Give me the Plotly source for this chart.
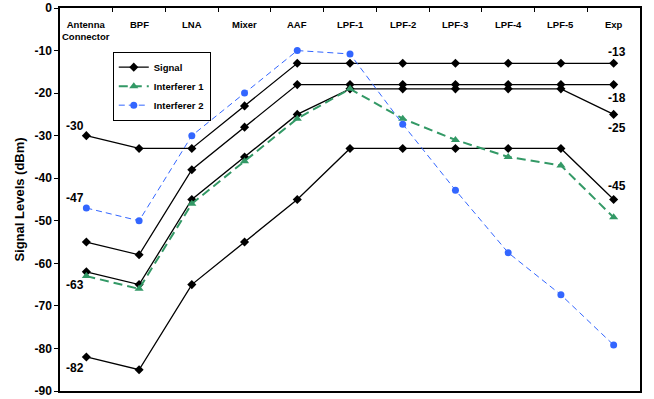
import plotly.graph_objects as go

# Receiver chain stages
stages = ["Antenna<br>Connector", "BPF", "LNA", "Mixer", "AAF",
          "LPF-1", "LPF-2", "LPF-3", "LPF-4", "LPF-5", "Exp"]

# Wanted-signal levels (dBm) for four input cases
signal_a = [-30, -33, -33, -23, -13, -13, -13, -13, -13, -13, -13]
signal_b = [-55, -58, -38, -28, -18, -18, -18, -18, -18, -18, -18]
signal_c = [-62, -65, -45, -35, -25, -19, -19, -19, -19, -19, -25]
signal_d = [-82, -85, -65, -55, -45, -33, -33, -33, -33, -33, -45]

# Interferer levels (dBm)
interferer_1 = [-63, -66, -46, -36, -26, -19, -26, -31, -35, -37, -49.2]
interferer_2 = [-47, -50, -30, -20, -10, -10.8, -27.3, -42.8, -57.5, -67.4, -79.2]

# Value callouts: (stage index, value, vertical offset in px)
left_labels = [(0, -30, 10), (0, -47, 10), (0, -63, -9), (0, -82, -11)]
right_labels = [(10, -13, 11), (10, -18, -13), (10, -25, -14), (10, -45, 14)]

# Y axis ticks (dBm)
y_ticks = [0, -10, -20, -30, -40, -50, -60, -70, -80, -90]

BLACK = "#000000"
GREEN = "#339966"
BLUE = "#3366FF"
FONT = "Liberation Sans, Arial, sans-serif"

fig = go.Figure()

for i, series in enumerate([signal_a, signal_b, signal_c, signal_d]):
    fig.add_trace(go.Scatter(
        x=stages, y=series, mode="lines+markers", name="Signal",
        legendgroup="signal", showlegend=(i == 0),
        line=dict(color=BLACK, width=1.3),
        marker=dict(symbol="diamond", size=7, color=BLACK),
    ))

fig.add_trace(go.Scatter(
    x=stages, y=interferer_1, mode="lines+markers", name="Interferer 1",
    line=dict(color=GREEN, width=2, dash="9px,5px"),
    marker=dict(symbol="triangle-up", size=8, color=GREEN),
))

fig.add_trace(go.Scatter(
    x=stages, y=interferer_2, mode="lines+markers", name="Interferer 2",
    line=dict(color=BLUE, width=1, dash="6px,4px"),
    marker=dict(symbol="circle", size=7, color=BLUE),
))

annotations = []
# Stage names along the top of the plot
for s in stages:
    annotations.append(dict(
        x=s, y=1, xref="x", yref="paper", yanchor="top", xanchor="center",
        yshift=-9, text="<b>%s</b>" % s, showarrow=False,
        font=dict(family=FONT, size=9.5, color=BLACK), align="center",
    ))

for idx, val, dy in left_labels:
    annotations.append(dict(
        x=stages[idx], y=val, xref="x", yref="y", xshift=-11, yshift=dy,
        text="<b>%d</b>" % val, showarrow=False,
        font=dict(family=FONT, size=12, color=BLACK),
    ))
for idx, val, dy in right_labels:
    annotations.append(dict(
        x=stages[idx], y=val, xref="x", yref="y", xshift=3, yshift=dy,
        text="<b>%d</b>" % val, showarrow=False,
        font=dict(family=FONT, size=12, color=BLACK),
    ))

fig.update_layout(
    width=654, height=399,
    margin=dict(l=60, r=14, t=8, b=8),
    paper_bgcolor="white", plot_bgcolor="white",
    showlegend=True,
    legend=dict(
        x=0.091, y=0.886, xanchor="left", yanchor="top",
        bgcolor="white", bordercolor=BLACK, borderwidth=1,
        font=dict(family=FONT, size=9.5, color=BLACK, weight="bold"),
        tracegroupgap=0, itemwidth=30,
    ),
    annotations=annotations,
    font=dict(family=FONT, color=BLACK),
)

fig.update_xaxes(
    type="category", side="top", range=[-0.5, len(stages) - 0.5],
    showticklabels=False, ticks="inside", ticklen=4, tickcolor=BLACK,
    tickson="boundaries", showgrid=False, zeroline=False, automargin=False,
    showline=True, linecolor=BLACK, linewidth=1.5, mirror=True,
)
fig.update_yaxes(
    range=[y_ticks[-1], y_ticks[0]],
    tickvals=y_ticks, ticktext=["<b>%d</b>" % v for v in y_ticks],
    ticks="outside", ticklen=4, tickcolor=BLACK,
    tickfont=dict(family=FONT, size=12, color=BLACK),
    showgrid=False, zeroline=False, automargin=False,
    showline=True, linecolor=BLACK, linewidth=1.5, mirror=True,
    title=dict(text="<b>Signal Levels (dBm)</b>", standoff=7,
               font=dict(family=FONT, size=13, color=BLACK)),
)

fig.write_html("out.html")
